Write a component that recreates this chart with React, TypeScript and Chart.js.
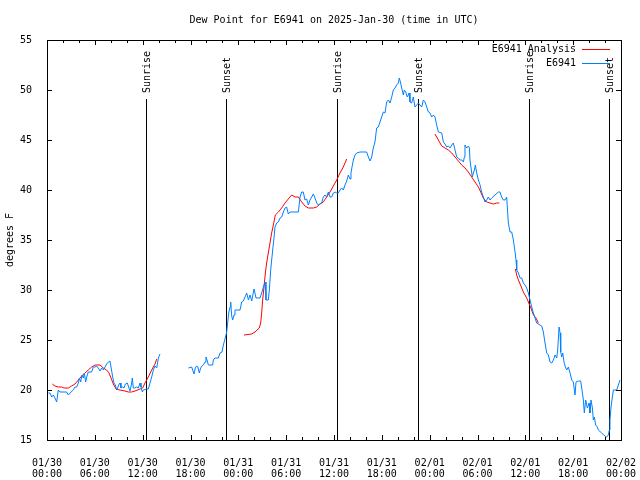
import React, { useEffect, useRef } from 'react';
import { Chart, registerables } from 'chart.js';

Chart.register(...registerables);

const TITLE = 'Dew Point for E6941 on 2025-Jan-30 (time in UTC)';
const Y_TITLE = 'degrees F';
const SERIES_OBS = 'E6941';
const SERIES_ANA = 'E6941 Analysis';

const X_TICK_LABELS: string[][] = [
  ['01/30', '00:00'], ['01/30', '06:00'], ['01/30', '12:00'], ['01/30', '18:00'],
  ['01/31', '00:00'], ['01/31', '06:00'], ['01/31', '12:00'], ['01/31', '18:00'],
  ['02/01', '00:00'], ['02/01', '06:00'], ['02/01', '12:00'], ['02/01', '18:00'],
  ['02/02', '00:00'],
];
const Y_MIN = 15;
const Y_MAX = 55;
const Y_STEP = 5;
const X_MAX_HOURS = 72;

// Sun events (hours since 01/30 00:00 UTC)
const SUN_HOURS = [12.42, 22.45, 36.38, 46.54, 60.46, 70.5];
const SUN_LABELS = ['Sunrise', 'Sunset', 'Sunrise', 'Sunset', 'Sunrise', 'Sunset'];

// Observed dew point (hours since 01/30 00:00 UTC, °F); null = data gap
const obsHours = [
  0.17, 0.38, 0.59, 0.79, 1.0, 1.21, 1.42, 1.63, 2.47, 2.68,
  2.89, 3.3, 3.51, 3.72, 3.93, 4.06, 4.22, 4.39, 4.56, 4.68,
  4.85, 4.98, 5.18, 5.6, 5.81, 6.02, 6.23, 6.44, 6.65, 6.86,
  7.07, 7.28, 7.48, 7.69, 7.9, 8.03, 8.24, 8.4, 8.57, 8.74,
  8.86, 8.99, 9.16, 9.28, 9.49, 9.66, 9.83, 10.08, 10.24, 10.41,
  10.58, 10.7, 10.83, 11.0, 11.25, 11.46, 11.67, 11.79, 11.96, 12.08,
  12.5, 12.71, 12.92, 13.13, 13.34, 13.55, 13.76, 13.97, 14.17, 16.0,
  17.73, 18.15, 18.27, 18.44, 18.6, 18.77, 18.93, 19.1, 19.27, 19.44,
  19.61, 19.82, 19.94, 20.11, 20.24, 20.78, 20.86, 21.07, 21.49, 21.7,
  21.95, 22.12, 22.33, 22.54, 22.66, 22.79, 22.96, 23.04, 23.17, 23.29,
  23.46, 23.58, 24.21, 24.42, 24.63, 24.84, 25.05, 25.26, 25.47, 25.68,
  25.97, 26.22, 26.72, 26.93, 27.14, 27.35, 27.47, 27.76, 27.89, 28.06,
  28.18, 28.31, 28.48, 28.6, 28.81, 29.02, 29.23, 29.44, 29.65, 29.85,
  30.06, 30.27, 30.48, 31.53, 31.74, 31.95, 32.15, 32.36, 32.57, 32.78,
  32.99, 33.2, 33.41, 33.62, 33.83, 34.04, 34.45, 34.66, 34.87, 35.08,
  35.29, 35.5, 35.71, 35.92, 36.13, 36.34, 36.54, 36.75, 36.96, 37.17,
  37.38, 37.59, 37.8, 38.01, 38.13, 38.26, 38.43, 38.64, 38.84, 39.26,
  40.1, 40.31, 40.52, 40.73, 40.93, 41.14, 41.35, 41.56, 41.77, 41.98,
  42.19, 42.4, 42.61, 42.82, 43.03, 43.24, 43.44, 43.65, 43.86, 44.07,
  44.19, 44.36, 44.49, 44.7, 44.82, 44.99, 45.2, 45.41, 45.53, 45.74,
  45.95, 46.16, 46.37, 46.58, 46.79, 47.0, 47.21, 47.42, 47.63, 47.84,
  48.05, 48.25, 48.46, 48.67, 48.88, 49.09, 49.51, 49.72, 49.93, 50.14,
  50.35, 50.56, 50.77, 50.97, 51.18, 51.39, 51.6, 51.81, 52.02, 52.23,
  52.35, 52.43, 52.64, 52.85, 52.98, 53.06, 53.19, 53.35, 53.48, 53.61,
  53.73, 53.9, 54.11, 54.32, 54.52, 54.73, 54.94, 55.15, 55.36, 55.57,
  55.78, 56.19, 56.61, 56.82, 57.03, 57.24, 57.45, 57.66, 57.87, 58.08,
  58.29, 58.5, 58.71, 58.83, 58.92, 59.13, 59.34, 59.55, 59.75, 59.96,
  60.17, 60.38, 60.59, 60.8, 61.01, 61.22, 61.42, 61.84, 62.05, 62.26,
  62.47, 62.68, 62.89, 63.1, 63.31, 63.52, 63.73, 63.94, 64.06, 64.23,
  64.36, 64.44, 64.56, 64.69, 64.85, 65.02, 65.19, 65.4, 65.61, 65.82,
  66.02, 66.23, 66.36, 66.65, 66.94, 67.11, 67.28, 67.4, 67.57, 67.78,
  67.99, 68.11, 68.24, 68.41, 68.53, 68.66, 68.82, 69.03, 69.16, 69.58,
  69.99, 70.2, 70.41, 70.54, 70.62, 70.75, 70.92, 71.04, 71.46, 71.67,
  71.88,
];
const obsDewpoint: (number | null)[] = [
  19.7, 19.7, 19.3, 19.5, 19.2, 18.8, 20.0, 19.8, 19.8, 19.5,
  19.7, 20.0, 20.3, 20.3, 20.7, 21.2, 20.8, 21.5, 21.2, 21.7,
  20.8, 21.3, 21.8, 21.8, 22.3, 22.3, 22.4, 22.2, 21.9, 22.2,
  22.0, 22.3, 22.6, 22.8, 22.9, 22.3, 21.3, 20.7, 20.5, 20.0,
  20.2, 20.5, 20.7, 20.2, 20.3, 20.2, 20.6, 20.7, 20.3, 19.9,
  20.5, 21.2, 20.2, 20.2, 20.3, 20.2, 20.7, 20.3, 19.8, 20.0,
  20.1, 20.1, 20.7, 21.3, 22.0, 22.4, 22.2, 23.2, 23.6, null,
  22.2, 22.3, 22.0, 21.6, 22.2, 22.4, 22.3, 21.7, 22.2, 22.4,
  22.5, 22.8, 23.3, 22.9, 22.5, 22.5, 23.0, 23.2, 23.2, 23.7,
  23.8, 24.5, 25.1, 25.8, 26.7, 27.7, 28.3, 28.8, 27.4, 27.0,
  27.5, 28.0, 28.0, 28.8, 28.9, 29.3, 29.7, 29.0, 29.5, 28.9,
  30.1, 29.2, 29.2, 29.7, 30.3, 30.8, 29.0, 29.0, 30.0, 32.0,
  33.0, 34.0, 35.3, 36.3, 36.7, 36.8, 37.2, 37.3, 37.8, 38.2,
  38.3, 37.6, 37.8, 37.8, 39.3, 39.8, 39.8, 39.0, 39.1, 38.5,
  39.0, 39.3, 39.6, 39.2, 38.7, 38.5, 38.7, 39.3, 39.5, 39.3,
  39.8, 39.3, 39.3, 39.7, 39.8, 39.7, 39.7, 40.0, 40.2, 40.0,
  40.5, 40.9, 41.5, 41.1, 41.7, 42.3, 43.0, 43.5, 43.7, 43.8,
  43.8, 43.3, 42.9, 43.3, 44.2, 44.8, 46.2, 46.3, 46.8, 47.3,
  47.8, 47.7, 48.8, 49.0, 48.7, 49.3, 50.0, 50.2, 50.5, 50.7,
  51.2, 50.7, 50.2, 49.5, 50.0, 49.8, 49.3, 49.7, 48.8, 48.7,
  49.3, 48.3, 48.5, 48.7, 48.5, 48.3, 49.0, 48.8, 48.3, 47.8,
  47.7, 47.3, 47.5, 47.3, 46.5, 45.8, 45.7, 44.8, 44.6, 44.3,
  44.4, 44.2, 44.5, 44.7, 44.0, 43.3, 43.2, 43.0, 43.0, 42.8,
  43.3, 44.5, 44.2, 44.4, 44.2, 43.0, 42.2, 41.3, 41.7, 42.0,
  42.5, 41.7, 41.0, 40.5, 39.8, 39.3, 38.8, 39.0, 39.3, 39.0,
  39.2, 39.5, 39.8, 39.8, 39.3, 39.0, 39.0, 39.3, 36.7, 35.8,
  35.8, 35.0, 33.8, 33.0, 32.0, 31.7, 31.2, 31.2, 30.7, 30.5,
  30.2, 29.7, 29.0, 28.3, 27.7, 27.2, 26.7, 26.5, 26.4, 25.8,
  24.7, 23.7, 23.5, 22.8, 22.7, 23.0, 23.5, 23.2, 24.0, 26.3,
  25.7, 23.8, 23.3, 23.7, 22.8, 22.3, 22.0, 22.3, 21.7, 21.0,
  20.8, 19.5, 20.8, 20.9, 20.9, 20.0, 19.0, 17.7, 19.0, 18.2,
  18.7, 17.7, 19.0, 18.2, 17.0, 17.3, 16.5, 16.3, 16.0, 15.7,
  15.4, 15.3, 15.5, 16.0, 17.0, 18.3, 19.3, 20.0, 20.0, 20.5,
  21.0,
];

// Analysis dew point (hours, °F); null separates the analysis segments
const anaHours = [
  0.67, 1.0, 1.42, 1.84, 2.13, 2.68, 3.09, 3.51, 3.93, 4.35,
  4.77, 5.18, 5.6, 6.02, 6.65, 7.07, 7.48, 7.78, 8.03, 8.32,
  8.66, 9.16, 9.78, 10.2, 10.62, 11.04, 11.67, 12.0, 12.29, 12.71,
  13.13, 13.55, 13.76, 20.0,
  24.71, 25.67, 26.09, 26.63, 26.8, 26.93, 27.05, 27.22, 27.39, 27.55,
  27.76, 27.97, 28.18, 28.39, 28.64, 29.02, 29.44, 29.85, 30.27, 30.69,
  31.11, 31.53, 31.95, 32.36, 32.78, 33.41, 33.83, 34.24, 34.66, 35.08,
  35.5, 35.92, 36.34, 36.75, 37.17, 37.59, 42.0,
  48.67, 49.09, 49.51, 49.93, 50.35, 50.77, 51.18, 51.6, 52.02, 52.43,
  52.85, 53.27, 53.69, 54.11, 54.4, 54.73, 55.15, 55.57, 55.99, 56.41,
  56.74, 57.5,
  58.75, 58.92, 59.13, 59.34, 59.55, 59.75, 59.96, 60.17, 60.38, 60.59,
  60.8, 61.01, 61.34, 61.63,
];
const anaDewpoint: (number | null)[] = [
  20.6, 20.4, 20.3, 20.3, 20.2, 20.2, 20.4, 20.6, 21.0, 21.4,
  21.7, 22.0, 22.3, 22.5, 22.5, 22.2, 22.0, 21.7, 21.2, 20.6,
  20.1, 20.0, 19.9, 19.8, 19.8, 19.9, 20.1, 20.2, 20.7, 21.3,
  22.0, 22.6, 23.1, null,
  25.5, 25.6, 25.8, 26.2, 26.7, 27.7, 29.0, 30.3, 31.7, 32.7,
  33.7, 34.7, 35.7, 36.5, 37.5, 37.8, 38.2, 38.7, 39.1, 39.5,
  39.3, 39.3, 38.8, 38.4, 38.2, 38.2, 38.3, 38.6, 38.8, 39.3,
  39.8, 40.4, 41.0, 41.7, 42.3, 43.1, null,
  45.6, 45.0, 44.4, 44.2, 44.0, 43.7, 43.3, 42.9, 42.5, 42.2,
  41.8, 41.3, 40.8, 40.3, 39.8, 39.2, 38.8, 38.7, 38.6, 38.7,
  38.7, null,
  32.1, 31.5, 31.0, 30.6, 30.2, 29.8, 29.5, 29.2, 28.8, 28.4,
  28.0, 27.5, 27.2, 26.7,
];

const OBS_COLOR = 'rgb(0,128,255)';
const ANA_COLOR = 'rgb(255,0,0)';
const FONT_FAMILY = '"DejaVu Sans Mono", "Liberation Mono", monospace';

const gnuplotOverlay = {
  id: 'gnuplotOverlay',
  beforeDatasetsDraw(chart: any) {
    const { ctx, chartArea, scales } = chart;
    const x = scales.x;
    ctx.save();
    ctx.strokeStyle = '#000';
    ctx.lineWidth = 1;
    SUN_HOURS.forEach((h) => {
      const px = Math.round(x.getPixelForValue(h)) + 0.5;
      ctx.beginPath();
      ctx.moveTo(px, 99);
      ctx.lineTo(px, chartArea.bottom);
      ctx.stroke();
    });
    ctx.restore();
  },
  afterDatasetsDraw(chart: any) {
    const { ctx, chartArea, scales } = chart;
    const x = scales.x;
    const y = scales.y;
    const { left, right, top, bottom } = chartArea;
    ctx.save();
    ctx.strokeStyle = '#000';
    ctx.lineWidth = 1;
    // frame
    ctx.strokeRect(left + 0.5, top + 0.5, right - left, bottom - top);
    // x ticks (major every 6h, minor every 2h), inward, mirrored on top
    ctx.beginPath();
    for (let h = 0; h <= X_MAX_HOURS; h += 2) {
      const px = Math.round(x.getPixelForValue(h)) + 0.5;
      const len = h % 6 === 0 ? 5 : 3;
      ctx.moveTo(px, bottom);
      ctx.lineTo(px, bottom - len);
      ctx.moveTo(px, top);
      ctx.lineTo(px, top + len);
    }
    // y ticks
    for (let v = Y_MIN; v <= Y_MAX; v += Y_STEP) {
      const py = Math.round(y.getPixelForValue(v)) + 0.5;
      ctx.moveTo(left, py);
      ctx.lineTo(left + 5, py);
      ctx.moveTo(right, py);
      ctx.lineTo(right - 5, py);
    }
    ctx.stroke();

    ctx.fillStyle = '#000';
    ctx.font = `10px ${FONT_FAMILY}`;
    // sun labels, rotated
    SUN_HOURS.forEach((h, i) => {
      const px = Math.round(x.getPixelForValue(h)) + 1;
      ctx.save();
      ctx.translate(px, 93);
      ctx.rotate(-Math.PI / 2);
      ctx.textAlign = 'left';
      ctx.textBaseline = 'middle';
      ctx.fillText(SUN_LABELS[i], 0, 0);
      ctx.restore();
    });

    // title
    ctx.textAlign = 'center';
    ctx.textBaseline = 'middle';
    ctx.fillText(TITLE, (left + right) / 2, 20);

    // key (top right)
    const rows = [
      { label: SERIES_ANA, color: ANA_COLOR, y: 49 },
      { label: SERIES_OBS, color: OBS_COLOR, y: 63 },
    ];
    rows.forEach((r) => {
      ctx.textAlign = 'right';
      ctx.fillStyle = '#000';
      ctx.fillText(r.label, 576, r.y);
      ctx.strokeStyle = r.color;
      ctx.beginPath();
      ctx.moveTo(582, r.y + 0.5);
      ctx.lineTo(610, r.y + 0.5);
      ctx.stroke();
    });
    ctx.restore();
  },
};

export default function App() {
  const canvasRef = useRef<HTMLCanvasElement | null>(null);

  useEffect(() => {
    const canvas = canvasRef.current;
    if (!canvas) return;
    const obsData = obsHours.map((h, i) => ({ x: h, y: obsDewpoint[i] }));
    const anaData = anaHours.map((h, i) => ({ x: h, y: anaDewpoint[i] }));
    const chart = new Chart(canvas, {
      type: 'line',
      data: {
        datasets: [
          {
            label: SERIES_OBS,
            data: obsData as any,
            borderColor: OBS_COLOR,
            borderWidth: 1,
            pointRadius: 0,
            tension: 0,
            spanGaps: false,
            order: 0,
          },
          {
            label: SERIES_ANA,
            data: anaData as any,
            borderColor: ANA_COLOR,
            borderWidth: 1,
            pointRadius: 0,
            tension: 0,
            spanGaps: false,
            order: 1,
          },
        ],
      },
      options: {
        responsive: false,
        animation: false,
        events: [],
        layout: { padding: { left: 0, top: 40, right: 19, bottom: 0 } },
        plugins: {
          legend: { display: false },
          tooltip: { enabled: false },
          title: { display: false },
        },
        scales: {
          x: {
            type: 'linear',
            min: 0,
            max: X_MAX_HOURS,
            grid: { display: false },
            border: { display: false },
            afterFit: (scale: any) => {
              scale.height = 40;
              scale.paddingLeft = 0;
              scale.paddingRight = 0;
            },
            ticks: {
              stepSize: 6,
              autoSkip: false,
              maxRotation: 0,
              minRotation: 0,
              padding: 10,
              color: '#000',
              font: { family: FONT_FAMILY, size: 10, lineHeight: 1.1 },
              callback: (value: any) => {
                const idx = Math.round(Number(value) / 6);
                return X_TICK_LABELS[idx] ?? '';
              },
            },
          },
          y: {
            type: 'linear',
            min: Y_MIN,
            max: Y_MAX,
            grid: { display: false },
            border: { display: false },
            afterFit: (scale: any) => {
              scale.width = 47;
              scale.paddingTop = 0;
              scale.paddingBottom = 0;
            },
            title: {
              display: true,
              text: Y_TITLE,
              color: '#000',
              font: { family: FONT_FAMILY, size: 10, lineHeight: 1.2 },
              padding: { top: 4, bottom: 0 },
            },
            ticks: {
              stepSize: Y_STEP,
              padding: 7,
              color: '#000',
              font: { family: FONT_FAMILY, size: 10 },
            },
          },
        },
      },
      plugins: [gnuplotOverlay],
    });
    return () => chart.destroy();
  }, []);

  return (
    <div style={{ position: 'absolute', left: 0, top: 0, width: 640, height: 480, background: '#fff' }}>
      <canvas ref={canvasRef} width={640} height={480} />
    </div>
  );
}
